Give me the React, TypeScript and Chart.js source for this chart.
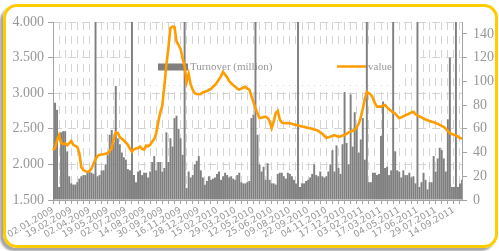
import React, { useEffect, useRef } from 'react';
import { Chart, registerables } from 'chart.js';

Chart.register(...registerables);

const tickLabels = [
  '02.01.2009', '19.02.2009', '02.04.2009', '19.05.2009', '02.07.2009', '14.08.2009',
  '30.09.2009', '16.11.2009', '28.12.2009', '15.02.2010', '29.03.2010', '12.05.2010',
  '25.06.2010', '09.08.2010', '22.09.2010', '04.11.2010', '17.12.2010', '03.02.2011',
  '17.03.2011', '04.05.2011', '17.06.2011', '29.07.2011', '14.09.2011',
];

// Turnover (million), right axis
const turnover = [
  45, 82, 76, 11, 57, 58, 58, 41, 20, 14,
  13, 13, 15, 18, 20, 21, 21, 23, 24, 23,
  22, 160, 20, 21, 25, 25, 30, 38, 55, 59,
  49, 96, 52, 47, 40, 36, 34, 26, 25, 160,
  21, 15, 24, 25, 21, 23, 23, 19, 24, 32,
  37, 25, 32, 32, 24, 27, 57, 32, 52, 45,
  69, 71, 60, 52, 38, 160, 10, 24, 19, 21,
  30, 33, 37, 25, 19, 13, 16, 20, 17, 18,
  19, 22, 24, 17, 20, 23, 21, 19, 20, 18,
  17, 21, 23, 15, 14, 14, 15, 16, 69, 72,
  160, 55, 30, 24, 28, 17, 31, 17, 14, 14,
  13, 22, 23, 23, 20, 18, 23, 22, 20, 17,
  14, 160, 11, 14, 14, 16, 17, 19, 22, 30,
  21, 20, 24, 20, 19, 20, 24, 30, 42, 24,
  46, 27, 22, 47, 91, 48, 30, 89, 45, 74,
  61, 40, 51, 69, 34, 160, 15, 15, 23, 23,
  21, 22, 54, 83, 27, 28, 21, 25, 160, 41,
  25, 24, 19, 25, 21, 21, 23, 19, 20, 14,
  160, 11, 15, 23, 17, 9, 15, 15, 37, 24,
  35, 44, 42, 35, 24, 68, 120, 11, 11, 160,
  11, 14, 17,
];

// value, left axis
const indexValue = [
  2200, 2230, 2340, 2410, 2300, 2285, 2295, 2270, 2300, 2330,
  2275, 2260, 2245, 2160, 1960, 1920, 1905, 1895, 1905, 1940,
  2010, 2070, 2120, 2135, 2140, 2142, 2150, 2155, 2190, 2226,
  2360, 2450, 2440, 2385, 2360, 2335, 2305, 2275, 2220, 2180,
  2210, 2226, 2226, 2249, 2215, 2210, 2265, 2255, 2275, 2320,
  2355, 2440, 2600, 2730, 2830, 3100, 3400, 3640, 3915, 3935,
  3930, 3730, 3680, 3620, 3490, 3380, 3160, 3270, 3120, 3050,
  3000, 2990, 2985, 2990, 3010, 3020, 3030, 3045, 3060, 3090,
  3115, 3150, 3195, 3240, 3300, 3260, 3225, 3170, 3140, 3110,
  3090, 3065, 3050, 3065, 3080, 3090, 3065, 3050, 2960, 2870,
  2790, 2720, 2650, 2655, 2665, 2670, 2650, 2605, 2510, 2600,
  2720, 2750, 2630, 2590, 2577, 2577, 2580, 2577, 2570, 2560,
  2555, 2550, 2540, 2532, 2527, 2520, 2512, 2507, 2500, 2492,
  2485, 2470, 2450, 2430, 2400, 2370, 2380, 2390, 2400, 2412,
  2400, 2390, 2392, 2405, 2413, 2430, 2450, 2462, 2472, 2482,
  2520, 2570, 2660, 2780, 2920, 3020, 3000, 2980, 2930, 2860,
  2810, 2812, 2810, 2825, 2834, 2800, 2775, 2750, 2730, 2715,
  2680, 2650, 2660, 2675, 2690, 2700, 2715, 2730, 2740, 2705,
  2690, 2672, 2660, 2645, 2630, 2620, 2610, 2600, 2592, 2582,
  2570, 2555, 2540, 2527, 2500, 2470, 2440, 2428, 2418, 2410,
  2390, 2370, 2360,
];

const POINTS_PER_LABEL = 9;
const POINTS_PER_GRID = 3;

const categories = turnover.map((_, i) =>
  i % POINTS_PER_LABEL === 0 ? tickLabels[i / POINTS_PER_LABEL] || '' : ''
);

const GRID = '#d4d4d4';
const AXIS = '#a3a3a3';
const TEXT = '#979797';
const BAR = '#7f7f7f';
const LINE = '#FF9C00';
const SERIF = '"Liberation Serif", "DejaVu Serif", serif';

const innerLegend = {
  id: 'innerLegend',
  beforeDatasetsDraw(chart: any) {
    const { ctx, chartArea: a } = chart;
    ctx.save();
    ctx.fillStyle = '#ffffff';
    ctx.fillRect(a.left + 77, 45, 290, 17);
    ctx.fillRect(a.left + 97, 45, 250, 40);
    const y = 67;
    ctx.fillStyle = BAR;
    ctx.fillRect(a.left + 105, y - 3.5, 30, 7);
    ctx.font = '11px ' + SERIF;
    ctx.fillStyle = TEXT;
    ctx.textBaseline = 'middle';
    ctx.textAlign = 'left';
    ctx.fillText('Turnover (million)', a.left + 137, y);
    ctx.strokeStyle = LINE;
    ctx.lineWidth = 2.5;
    ctx.beginPath();
    ctx.moveTo(a.left + 284, y - 0.5);
    ctx.lineTo(a.left + 314, y - 0.5);
    ctx.stroke();
    ctx.fillText('value', a.left + 315, y);
    ctx.restore();
  },
};

export default function App() {
  const ref = useRef<HTMLCanvasElement | null>(null);

  useEffect(() => {
    document.body.style.margin = '0';
    if (!ref.current) return;
    const chart = new Chart(ref.current, {
      type: 'bar',
      data: {
        labels: categories,
        datasets: [
          {
            type: 'line',
            label: 'value',
            data: indexValue,
            yAxisID: 'y',
            borderColor: LINE,
            borderWidth: 2.6,
            pointRadius: 0,
            tension: 0,
            order: 0,
          } as any,
          {
            type: 'bar',
            label: 'Turnover (million)',
            data: turnover,
            yAxisID: 'y1',
            backgroundColor: BAR,
            barPercentage: 0.95,
            categoryPercentage: 1,
            order: 1,
          },
        ],
      },
      options: {
        animation: false,
        responsive: false,
        devicePixelRatio: 1,
        layout: { padding: { top: 22, left: 0, right: 0, bottom: 0 } },
        plugins: { legend: { display: false }, tooltip: { enabled: false } },
        scales: {
          x: {
            type: 'category',
            offset: false,
            grid: {
              offset: false,
              color: (c: any) => (c.index % POINTS_PER_GRID === 0 ? GRID : 'rgba(0,0,0,0)'),
              tickColor: (c: any) => (c.index % POINTS_PER_GRID === 0 ? AXIS : 'rgba(0,0,0,0)'),
              tickLength: 4,
              lineWidth: 1,
            },
            border: { display: true, color: AXIS, dash: [8, 6] },
            ticks: {
              autoSkip: false,
              maxRotation: 30,
              minRotation: 30,
              padding: 1,
              color: TEXT,
              font: { family: '"DejaVu Sans", sans-serif', size: 9 },
              callback: (_v: any, i: number) => categories[i],
            },
            afterFit: (s: any) => {
              s.height = 51;
            },
          },
          y: {
            type: 'linear',
            position: 'left',
            min: 1500,
            max: 4000,
            grid: { color: GRID, tickColor: AXIS, tickLength: 5, lineWidth: 1 },
            border: { display: true, color: AXIS, dash: [8, 6] },
            ticks: {
              stepSize: 500,
              padding: 4,
              color: TEXT,
              font: { family: SERIF, size: 14 },
              callback: (v: any) => (Number(v) / 1000).toFixed(3),
            },
            afterFit: (s: any) => {
              s.width = 53;
            },
          },
          y1: {
            type: 'linear',
            position: 'right',
            min: 0,
            max: 150,
            grid: { drawOnChartArea: false, color: AXIS, tickColor: AXIS, tickLength: 5 },
            border: { display: true, color: AXIS },
            ticks: {
              stepSize: 20,
              includeBounds: false,
              padding: 6,
              color: TEXT,
              font: { family: SERIF, size: 14 },
            },
            afterFit: (s: any) => {
              s.width = 37;
            },
          },
        },
      },
      plugins: [innerLegend],
    });
    return () => chart.destroy();
  }, []);

  return (
    <div style={{ position: 'relative', width: 499, height: 251, background: '#fff', overflow: 'hidden' }}>
      <canvas ref={ref} width={499} height={251} style={{ position: 'absolute', left: 0, top: 0 }} />
      <div
        style={{
          position: 'absolute',
          left: 3,
          top: 4,
          width: 489,
          height: 238,
          border: '3px solid #FFCC00',
          borderRadius: 14,
          boxShadow: '-3px 3px 2px rgba(0,0,0,0.35)',
          pointerEvents: 'none',
        }}
      />
    </div>
  );
}
